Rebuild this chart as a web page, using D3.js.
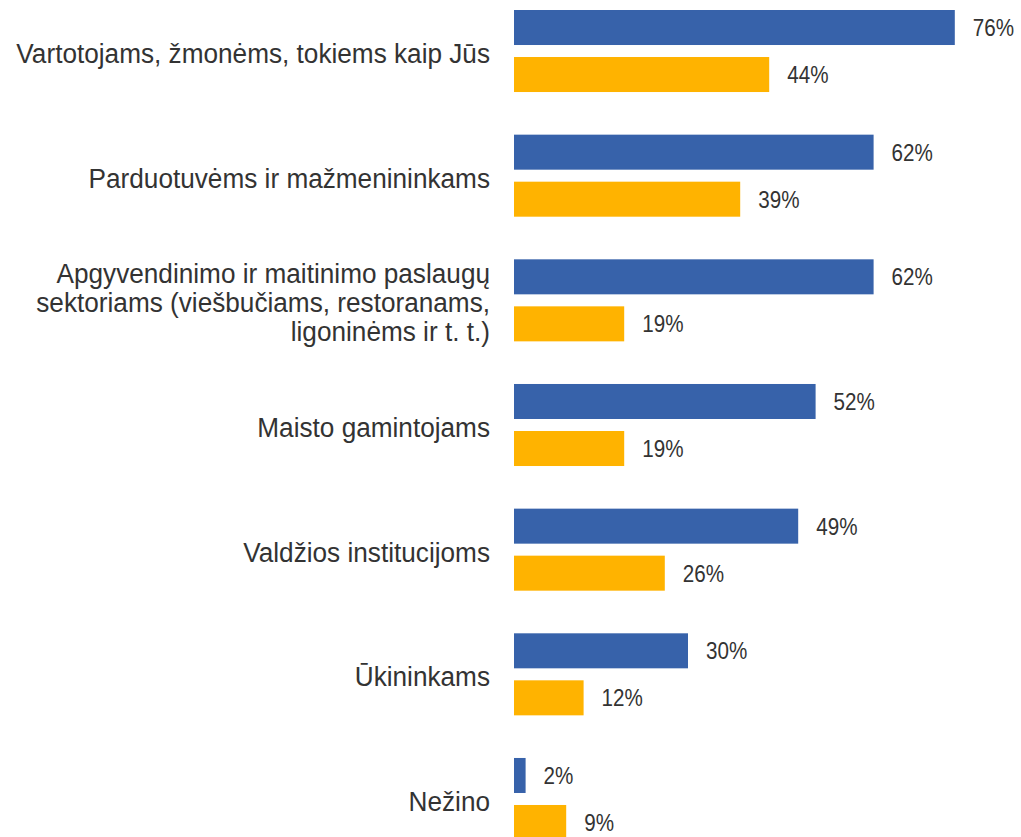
<!DOCTYPE html>
<html><head><meta charset="utf-8">
<script src="https://cdn.jsdelivr.net/npm/d3@7"></script>
<style>body{margin:0;background:#fff}svg{display:block}</style>
</head><body>
<svg id="chart" width="1021" height="837"></svg>
<script>
const categories = [
  ["Vartotojams, žmonėms, tokiems kaip Jūs"],
  ["Parduotuvėms ir mažmenininkams"],
  ["Apgyvendinimo ir maitinimo paslaugų", "sektoriams (viešbučiams, restoranams,", "ligoninėms ir t. t.)"],
  ["Maisto gamintojams"],
  ["Valdžios institucijoms"],
  ["Ūkininkams"],
  ["Nežino"]
];
const seriesNames = ["A", "B"];
const seriesA = [76, 62, 62, 52, 49, 30, 2];
const seriesB = [44, 39, 19, 19, 26, 12, 9];
const colors = ["#3762AA", "#FFB300"];

const svg = d3.select("#chart");
const keys = categories.map((c, i) => i);
const y = d3.scaleBand().domain(keys).range([10, 840]).paddingInner(0.342).paddingOuter(0);
const ys = d3.scaleBand().domain(seriesNames).range([0, y.bandwidth()]).paddingInner(12/47).paddingOuter(0);
const x = d3.scaleLinear().domain([0, 100]).range([514, 1094]);
const vals = [seriesA, seriesB];

const g = svg.selectAll("g.grp").data(keys).join("g").attr("class", "grp")
  .attr("transform", d => `translate(0,${y(d)})`);

seriesNames.forEach((s, si) => {
  g.append("rect")
    .attr("x", x(0))
    .attr("y", ys(s))
    .attr("width", d => x(vals[si][d]) - x(0))
    .attr("height", ys.bandwidth())
    .attr("fill", colors[si]);
  g.append("text")
    .attr("transform", d => `translate(${x(vals[si][d]) + 18},${ys(s) + ys.bandwidth()/2 + 8.5}) scale(0.86,1)`)
    .attr("font-family", "Liberation Sans, Arial, sans-serif")
    .attr("font-size", 24)
    .attr("fill", "#333")
    .text(d => vals[si][d] + "%");
});

g.each(function(d) {
  const lines = categories[d];
  const cy = y.bandwidth() / 2;
  const lh = 29;
  const t = d3.select(this).append("text")
    .attr("transform", `translate(490,0) scale(0.97,1)`)
    .attr("text-anchor", "end")
    .attr("font-family", "Liberation Sans, Arial, sans-serif")
    .attr("font-size", 27)
    .attr("fill", "#333");
  lines.forEach((ln, li) => {
    t.append("tspan").attr("x", 0)
      .attr("y", cy + 12 + (li - (lines.length - 1) / 2) * lh)
      .text(ln);
  });
});
</script>
</body></html>
